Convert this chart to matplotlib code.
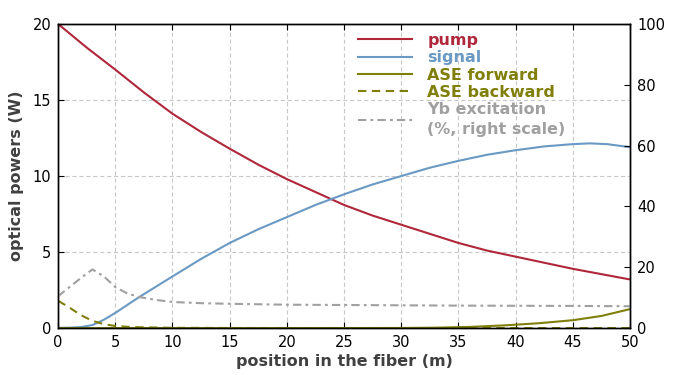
import matplotlib
matplotlib.use("Agg")
import matplotlib.pyplot as plt
import numpy as np

plt.rcParams["lines.scale_dashes"] = False

# data (positions in m)
pos_pump = [0, 2.5, 5, 7.5, 10, 12.5, 15, 17.5, 20, 22.5, 25, 27.5, 30, 32.5, 35, 37.5, 40, 42.5, 45, 47.5, 50]
pump = [20.0, 18.45, 17.0, 15.5, 14.1, 12.9, 11.8, 10.75, 9.8, 8.95, 8.1, 7.4, 6.8, 6.2, 5.6, 5.1, 4.7, 4.3, 3.9, 3.55, 3.2]

pos_sig = [0, 1, 2, 3, 4, 5, 6, 7, 8.5, 10, 12.5, 15, 17.5, 20, 22.5, 25, 27.5, 30, 32.5, 35, 37.5, 40, 42.5, 45, 46.5, 48, 50]
signal = [0.02, 0.03, 0.07, 0.2, 0.55, 1.0, 1.5, 2.0, 2.7, 3.4, 4.55, 5.6, 6.5, 7.3, 8.1, 8.8, 9.45, 10.0, 10.55, 11.0, 11.4, 11.7, 11.95, 12.1, 12.15, 12.1, 11.9]

pos_asef = [0, 10, 20, 30, 33, 36, 39, 42, 45, 47.5, 50]
ase_fwd = [0.0, 0.0, 0.0, 0.01, 0.03, 0.08, 0.18, 0.32, 0.52, 0.8, 1.25]

pos_aseb = [0, 1, 2, 3, 4, 5, 6, 7, 8.5, 10, 15, 20, 30, 40, 50]
ase_bwd = [1.8, 1.35, 0.85, 0.48, 0.26, 0.14, 0.09, 0.06, 0.04, 0.02, 0.01, 0.0, 0.0, 0.0, 0.0]

pos_yb = [0, 1, 2, 3, 4, 5, 6, 7, 8.5, 10, 12.5, 15, 20, 25, 30, 35, 40, 45, 50]
yb = [10.5, 13.5, 16.5, 19.3, 17.0, 13.5, 11.5, 10.3, 9.3, 8.6, 8.2, 8.0, 7.7, 7.6, 7.5, 7.4, 7.35, 7.3, 7.2]

c_pump = "#b0263a"
c_sig = "#6a99c4"
c_ase = "#7f7f0a"
c_yb = "#a0a0a0"
lw = 1.5
ls_dash = (0, (6, 4))
ls_dd = (0, (6, 3, 2, 3))

fig = plt.figure(figsize=(7, 3.75), dpi=100)
ax = fig.add_axes([0.083, 0.125, 0.817, 0.811])
ax2 = ax.twinx()

ax.plot(pos_pump, pump, color=c_pump, lw=lw, label="pump")
ax.plot(pos_sig, signal, color=c_sig, lw=lw, label="signal")
ax.plot(pos_asef, ase_fwd, color=c_ase, lw=lw, label="ASE forward")
ax.plot(pos_aseb, ase_bwd, color=c_ase, lw=lw, ls=ls_dash, label="ASE backward")
ax2.plot(pos_yb, yb, color=c_yb, lw=lw, ls=ls_dd)
ax.plot([], [], color=c_yb, lw=lw, ls=ls_dd, label="Yb excitation\n(%, right scale)")

ax.set_xlim(0, 50)
ax.set_ylim(0, 20)
ax2.set_ylim(0, 100)
ax.set_xticks(range(0, 51, 5))
ax.set_yticks([0, 5, 10, 15, 20])
ax2.set_yticks(range(0, 101, 20))
ax.grid(True, color="#c8c8c8", ls=(0, (3, 2)), lw=0.8)
ax.set_axisbelow(True)

ax.tick_params(axis="x", labelsize=10.5, direction="in", length=4, top=True, pad=5)
ax.tick_params(axis="y", labelsize=10.5, direction="in", length=4, pad=5)
ax2.tick_params(axis="y", labelsize=10.5, direction="in", length=4, pad=5)
for a in (ax, ax2):
    for s in a.spines.values():
        s.set_linewidth(1.0)

ax.set_xlabel("position in the fiber (m)", fontsize=11.5, fontweight="bold", color="#404040", labelpad=3)
ax.set_ylabel("optical powers (W)", fontsize=11.5, fontweight="bold", color="#404040", labelpad=6)

leg = ax.legend(loc="upper left", bbox_to_anchor=(0.509, 1.0), frameon=False, fontsize=11.5,
                handlelength=3.4, handletextpad=0.95, labelspacing=0.15, borderaxespad=0.15)
cols = [c_pump, c_sig, c_ase, c_ase, c_yb]
for t, c in zip(leg.get_texts(), cols):
    t.set_color(c)
    t.set_fontweight("bold")
    t.set_linespacing(1.35)

fig.savefig("out.png", dpi=100)
